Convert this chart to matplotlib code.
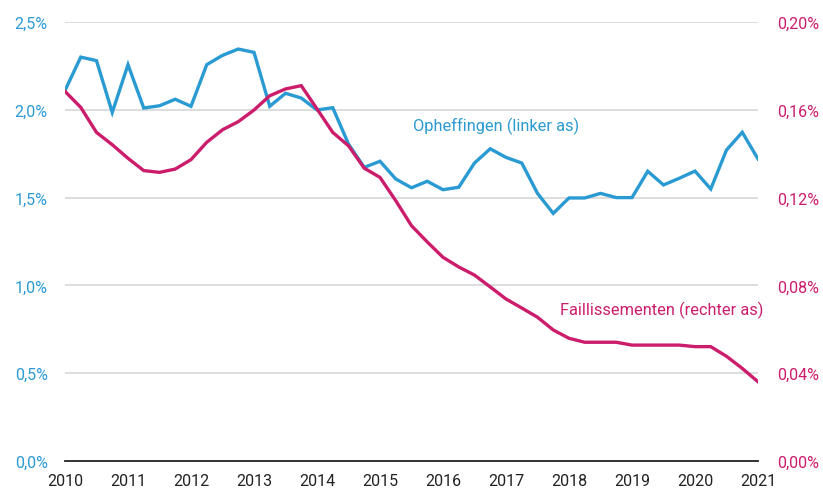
import numpy as np
import matplotlib.pyplot as plt

# quarterly observations, 2010Q1 .. 2021Q1
quarters = 2010 + np.arange(45) / 4

opheffingen = [2.11, 2.30, 2.28, 1.985, 2.257, 2.01, 2.023, 2.06, 2.02, 2.257, 2.31, 2.346,
               2.327, 2.02, 2.094, 2.067, 1.999, 2.012, 1.805, 1.672, 1.707, 1.606, 1.556, 1.593,
               1.545, 1.559, 1.697, 1.778, 1.729, 1.697, 1.524, 1.41, 1.498, 1.498, 1.524, 1.50,
               1.50, 1.65, 1.572, 1.61, 1.651, 1.549, 1.771, 1.872, 1.72]

faillissementen = [0.1684, 0.1611, 0.1497, 0.1441, 0.1379, 0.1323, 0.1315, 0.1330, 0.1373,
                   0.1452, 0.1509, 0.1546, 0.1599, 0.1664, 0.1695, 0.1710, 0.1604, 0.1497,
                   0.1436, 0.1334, 0.1292, 0.1186, 0.1072, 0.0998, 0.0928, 0.0884, 0.0847,
                   0.0793, 0.0738, 0.0697, 0.0655, 0.0597, 0.0559, 0.0541, 0.0541, 0.0541,
                   0.0528, 0.0528, 0.0528, 0.0528, 0.0521, 0.0521, 0.0477, 0.0422, 0.0361]

years = list(range(2010, 2022))
left_ticks = [0, 0.5, 1.0, 1.5, 2.0, 2.5]
left_labels = ["0,0%", "0,5%", "1,0%", "1,5%", "2,0%", "2,5%"]
right_ticks = [0, 0.04, 0.08, 0.12, 0.16, 0.20]
right_labels = ["0,00%", "0,04%", "0,08%", "0,12%", "0,16%", "0,20%"]

BLUE = "#2a9ad3"
MAGENTA = "#cc1c6c"
plt.rcParams["font.family"] = ["Roboto", "DejaVu Sans"]

fig = plt.figure(figsize=(8.23, 4.89), dpi=100)
ax = fig.add_axes([65/823, 27/489, 693/823, 439/489])
ax2 = ax.twinx()

ax.set_xlim(2010, 2021)
ax.set_ylim(0, 2.5)
ax2.set_ylim(0, 0.20)

for y in left_ticks[1:]:
    ax.axhline(y, color="#dadada", lw=1.3, zorder=0)

ax.plot(quarters, opheffingen, color=BLUE, lw=2.4, solid_joinstyle="miter", zorder=3)
ax2.plot(quarters, faillissementen, color=MAGENTA, lw=2.4, solid_joinstyle="miter", zorder=3)

for a in (ax, ax2):
    for s in ("top", "left", "right"):
        a.spines[s].set_visible(False)
ax.spines["bottom"].set_color("#222222")
ax.spines["bottom"].set_linewidth(1.3)
ax2.spines["bottom"].set_visible(False)

ax.set_xticks(years)
ax.set_xticklabels([str(y) for y in years])
ax.set_yticks(left_ticks)
ax.set_yticklabels(left_labels)
ax2.set_yticks(right_ticks)
ax2.set_yticklabels(right_labels)

ax.tick_params(axis="x", length=0, pad=9, labelsize=11.5, labelcolor="#222222")
ax.tick_params(axis="y", length=0, pad=12.5, labelsize=11.5, labelcolor=BLUE)
ax2.tick_params(axis="y", length=0, pad=13.5, labelsize=11.5, labelcolor=MAGENTA)

ax.text(2015.52, 1.91, "Opheffingen (linker as)", color=BLUE, fontsize=11.8,
        ha="left", va="center")
ax2.text(2021.08, 0.069, "Faillissementen (rechter as)", color=MAGENTA, fontsize=11.8,
         ha="right", va="center")

fig.savefig("out.png", dpi=100)
